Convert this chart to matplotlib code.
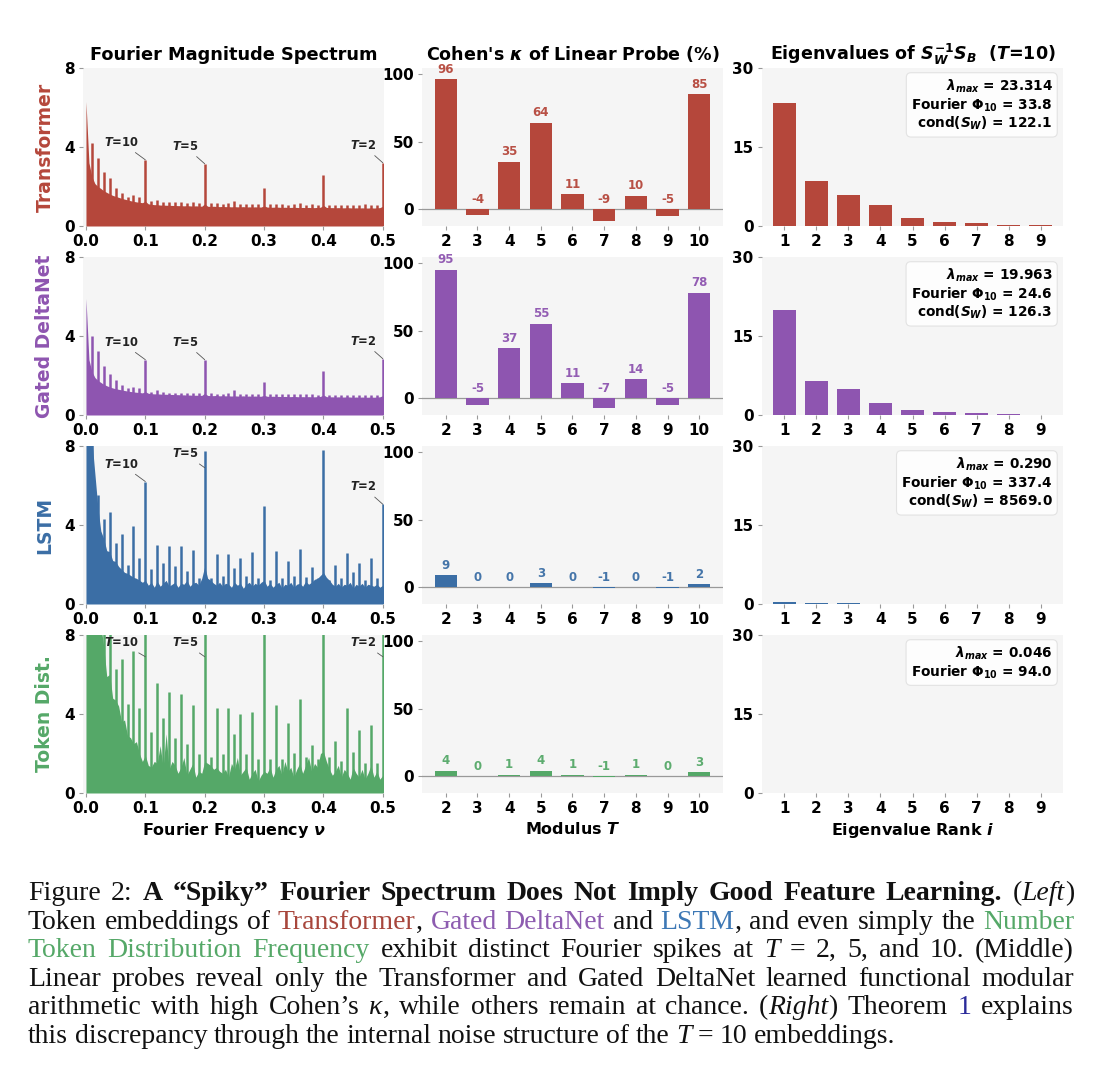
import matplotlib
matplotlib.use('Agg')
import matplotlib.pyplot as plt
import numpy as np

plt.rcParams['font.family'] = ['DejaVu Sans']
plt.rcParams['font.weight'] = 'bold'
plt.rcParams['axes.titleweight'] = 'bold'
plt.rcParams['axes.labelweight'] = 'bold'
plt.rcParams['mathtext.fontset'] = 'custom'
plt.rcParams['mathtext.rm'] = 'DejaVu Sans:bold'
plt.rcParams['mathtext.it'] = 'DejaVu Sans:italic:bold'
plt.rcParams['mathtext.bf'] = 'DejaVu Sans:bold'
plt.rcParams['mathtext.sf'] = 'DejaVu Sans:bold'

# ---- data ----
models = ["Transformer", "Gated DeltaNet", "LSTM", "Token Dist."]
colors = ["#b5473b", "#8e55b0", "#3b6ea5", "#55a868"]

# spectrum background level, every 0.005 from 0 to 0.5
base_tr = [6.3, 3.2, 2.5, 2.15, 2.0, 1.9, 1.78, 1.7, 1.62, 1.55,
           1.5, 1.45, 1.4, 1.36, 1.32, 1.28, 1.25, 1.22, 1.2, 1.18,
           1.25, 1.12, 1.1, 1.08, 1.08, 1.06, 1.06, 1.05, 1.05, 1.04,
           1.04, 1.03, 1.03, 1.02, 1.03, 1.02, 1.01, 1.02, 1.01, 1.0,
           1.12, 1.0, 0.99, 1.0, 0.99, 0.98, 0.99, 0.98, 0.98, 0.97,
           0.98, 0.97, 0.97, 0.98, 0.96, 0.97, 0.96, 0.97, 0.96, 0.96,
           1.02, 0.96, 0.95, 0.95, 0.96, 0.95, 0.94, 0.95, 0.94, 0.94,
           0.95, 0.94, 0.93, 0.94, 0.93, 0.94, 0.93, 0.93, 0.94, 0.95,
           1.05, 0.94, 0.93, 0.93, 0.92, 0.93, 0.92, 0.92, 0.93, 0.92,
           0.91, 0.92, 0.91, 0.92, 0.91, 0.91, 0.92, 0.91, 0.92, 0.93,
           1.0]
base_gd = [5.9, 2.8, 2.2, 1.9, 1.75, 1.65, 1.55, 1.48, 1.42, 1.37,
           1.33, 1.3, 1.27, 1.24, 1.21, 1.19, 1.17, 1.15, 1.14, 1.12,
           1.18, 1.1, 1.08, 1.07, 1.07, 1.06, 1.05, 1.05, 1.04, 1.04,
           1.03, 1.03, 1.02, 1.02, 1.01, 1.01, 1.0, 1.0, 1.0, 0.99,
           1.1, 0.99, 0.98, 0.98, 0.99, 0.97, 0.98, 0.97, 0.97, 0.96,
           0.97, 0.96, 0.96, 0.97, 0.95, 0.96, 0.95, 0.96, 0.95, 0.95,
           1.0, 0.95, 0.94, 0.95, 0.94, 0.94, 0.93, 0.94, 0.93, 0.93,
           0.94, 0.93, 0.92, 0.93, 0.92, 0.93, 0.92, 0.92, 0.93, 0.94,
           1.02, 0.93, 0.92, 0.92, 0.91, 0.92, 0.91, 0.91, 0.92, 0.91,
           0.9, 0.91, 0.9, 0.91, 0.9, 0.9, 0.91, 0.9, 0.91, 0.92,
           0.98]
base_ls = [8.5, 8.5, 8.3, 6.6, 4.9, 3.7, 3.3, 2.7, 2.65, 2.2,
           2.15, 1.9, 1.75, 1.6, 1.55, 1.45, 1.35, 1.3, 1.2, 1.1,
           1.2, 0.95, 1.1, 0.85, 1.15, 0.9, 1.05, 1.2, 0.9, 1.0,
           1.1, 0.85, 1.05, 1.0, 1.2, 0.9, 1.05, 1.1, 0.95, 1.3,
           1.9, 1.3, 1.2, 1.05, 0.95, 1.1, 0.9, 1.05, 1.0, 0.85,
           1.1, 0.95, 1.05, 0.8, 1.0, 1.1, 0.9, 1.05, 0.95, 1.1,
           1.2, 0.9, 1.05, 0.85, 1.0, 1.1, 0.8, 1.0, 0.95, 1.1,
           0.85, 1.0, 1.05, 0.9, 1.15, 1.0, 1.1, 1.25, 1.3, 1.45,
           1.6, 1.35, 1.2, 1.0, 0.9, 1.05, 0.85, 1.0, 0.95, 1.1,
           0.8, 1.0, 0.9, 1.05, 0.85, 1.0, 0.95, 0.9, 1.0, 0.85,
           0.95]
base_tk = [8.5, 8.5, 8.5, 8.5, 8.5, 8.5, 7.4, 5.9, 6.0, 4.8,
           4.7, 4.4, 3.6, 3.7, 2.9, 2.8, 2.5, 2.6, 2.0, 1.6,
           1.9, 1.4, 1.3, 1.6, 1.5, 2.4, 1.3, 3.0, 1.2, 1.6,
           1.4, 1.0, 1.3, 1.8, 0.9, 1.2, 1.5, 0.8, 1.1, 1.0,
           1.6, 1.5, 1.4, 1.2, 1.3, 1.1, 1.0, 1.2, 0.8, 1.5,
           1.2, 1.8, 0.9, 1.1, 1.3, 0.7, 1.0, 1.2, 0.6, 0.9,
           1.1, 1.0, 1.3, 0.8, 1.2, 1.4, 0.9, 1.6, 1.1, 1.3,
           0.8, 1.2, 1.5, 1.0, 1.4, 1.8, 1.1, 1.5, 1.3, 2.0,
           2.1, 1.6, 1.2, 0.9, 1.1, 1.4, 0.8, 1.2, 1.0, 0.7,
           1.3, 1.0, 0.8, 1.2, 0.7, 1.0, 1.4, 0.8, 1.1, 0.7,
           0.9]

# spike heights at nu = 0.01, 0.02, ..., 0.50
spk_tr = [4.2, 3.45, 2.75, 2.45, 1.9, 1.65, 1.45, 1.55, 1.45, 3.35,
          1.25, 1.3, 1.2, 1.2, 1.22, 1.22, 1.15, 1.2, 1.15, 3.15,
          1.15, 1.15, 1.1, 1.18, 1.25, 1.12, 1.1, 1.1, 1.1, 1.9,
          1.1, 1.1, 1.12, 1.05, 1.1, 1.15, 1.05, 1.1, 1.05, 2.6,
          1.08, 1.06, 1.08, 1.05, 1.07, 1.06, 1.1, 1.08, 1.05, 3.2]
spk_gd = [4.0, 3.25, 2.5, 2.1, 1.75, 1.5, 1.35, 1.4, 1.35, 2.8,
          1.15, 1.25, 1.15, 1.12, 1.12, 1.12, 1.1, 1.12, 1.1, 2.8,
          1.1, 1.08, 1.08, 1.1, 1.25, 1.08, 1.06, 1.06, 1.06, 1.65,
          1.05, 1.05, 1.05, 1.04, 1.05, 1.05, 1.04, 1.04, 1.03, 2.25,
          1.03, 1.03, 1.02, 1.03, 1.02, 1.02, 1.02, 1.02, 1.02, 2.85]
spk_ls = [8.5, 5.5, 4.3, 4.65, 3.1, 3.55, 2.0, 3.95, 2.35, 6.2,
          1.75, 3.0, 2.1, 2.95, 1.9, 2.95, 1.65, 2.75, 1.3, 7.75,
          1.3, 2.55, 1.4, 2.55, 1.8, 2.35, 1.4, 2.65, 1.3, 4.95,
          1.2, 2.7, 1.3, 2.2, 1.4, 2.8, 1.35, 1.85, 1.3, 7.8,
          1.2, 2.0, 1.3, 2.6, 1.6, 2.1, 1.2, 2.35, 1.3, 5.05]
spk_tk = [8.5, 8.5, 8.5, 8.5, 6.3, 6.8, 4.5, 7.2, 4.3, 8.5,
          3.1, 5.55, 3.8, 5.1, 2.8, 5.0, 2.5, 4.45, 2.0, 8.5,
          1.8, 4.3, 2.0, 4.3, 3.0, 4.0, 2.0, 4.1, 1.7, 8.5,
          1.7, 4.45, 1.7, 3.55, 2.05, 4.75, 1.8, 2.45, 1.7, 8.5,
          1.8, 2.65, 1.6, 4.3, 2.1, 3.2, 1.5, 3.45, 1.5, 8.5]

bases = [base_tr, base_gd, base_ls, base_tk]
spikes = [spk_tr, spk_gd, spk_ls, spk_tk]

moduli = [2, 3, 4, 5, 6, 7, 8, 9, 10]
kappa_tr = [96, -4, 35, 64, 11, -9, 10, -5, 85]
kappa_gd = [95, -5, 37, 55, 11, -7, 14, -5, 78]
kappa_ls = [9, 0, 0, 3, 0, -1, 0, -1, 2]
kappa_tk = [4, 0, 1, 4, 1, -1, 1, 0, 3]
kappas = [kappa_tr, kappa_gd, kappa_ls, kappa_tk]

ranks = [1, 2, 3, 4, 5, 6, 7, 8, 9]
eig_tr = [23.3, 8.6, 5.9, 3.9, 1.45, 0.8, 0.6, 0.2, 0.1]
eig_gd = [19.96, 6.5, 4.9, 2.25, 0.95, 0.6, 0.3, 0.1, 0.05]
eig_ls = [0.29, 0.12, 0.1, 0.08, 0.07, 0.05, 0.0, 0.0, 0.0]
eig_tk = [0.046, 0.02, 0.015, 0.01, 0.008, 0.005, 0.003, 0.002, 0.001]
eigs = [eig_tr, eig_gd, eig_ls, eig_tk]

lam_max = ["23.314", "19.963", "0.290", "0.046"]
phi10 = ["33.8", "24.6", "337.4", "94.0"]
cond_sw = ["122.1", "126.3", "8569.0", None]

# ---- figure ----
fig = plt.figure(figsize=(11.05, 10.8), dpi=100)
W, H = 1105, 1080

row_bottom = [1 - 226 / H, 1 - 415 / H, 1 - 604 / H, 1 - 793 / H]
row_h = 158 / H
col_left = [83 / W, 422 / W, 762 / W]
col_w = 301 / W
bg = '#f5f5f5'


def style_ax(ax):
    ax.set_facecolor(bg)
    for s in ax.spines.values():
        s.set_visible(False)
    ax.tick_params(length=3, width=0.8, color='#999999', labelsize=11, pad=3)


for r in range(4):
    c = colors[r]
    # --- spectrum
    ax = fig.add_axes([col_left[0], row_bottom[r], col_w, row_h])
    style_ax(ax)
    b = bases[r]
    nu_b = np.linspace(0, 0.5, len(b))
    ax.fill_between(nu_b, 0, b, color=c, lw=0)
    sp = spikes[r]
    nu_s = np.linspace(0.01, 0.5, len(sp))
    ax.vlines(nu_s, 0, sp, color=c, lw=1.8)
    ax.set_xlim(-0.005, 0.502)
    ax.set_ylim(0, 8)
    ax.set_yticks([0, 4, 8])
    ax.set_xticks([0, 0.1, 0.2, 0.3, 0.4, 0.5])
    ax.set_xticklabels(['0.0', '0.1', '0.2', '0.3', '0.4', '0.5'])
    for idx, lab, dx in [(9, '$T$=10', -0.04), (19, '$T$=5', -0.033), (49, '$T$=2', -0.033)]:
        h = sp[idx]
        ax.annotate(lab, xy=(nu_s[idx], min(h, 6.9)),
                    xytext=(nu_s[idx] + dx, min(h + 0.88, 7.6)),
                    ha='center', va='center', fontsize=8.3, color='#222222',
                    arrowprops=dict(arrowstyle='-', color='#555555', lw=0.6,
                                    shrinkA=1, shrinkB=0))
    fig.text(45 / W, row_bottom[r] + row_h / 2, models[r], rotation=90,
             ha='center', va='center', color=c, fontsize=13.5, fontweight='bold')
    if r == 0:
        ax.set_title("Fourier Magnitude Spectrum", fontsize=12.8, pad=6)
    if r == 3:
        ax.set_xlabel(r"Fourier Frequency $\nu$", fontsize=11.5, labelpad=3)

    # --- kappa
    ax = fig.add_axes([col_left[1], row_bottom[r], col_w, row_h])
    style_ax(ax)
    ax.axhline(0, color='#999999', lw=0.9, zorder=1)
    ax.bar(moduli, kappas[r], width=0.7, color=c, zorder=2)
    for t, v in zip(moduli, kappas[r]):
        ax.text(t, max(v, 0) + 2.5, str(v), ha='center', va='bottom',
                fontsize=8.5, color=c, alpha=0.95)
    ax.set_xlim(1.25, 10.75)
    ax.set_ylim(-12.5, 104.5)
    ax.set_yticks([0, 50, 100])
    ax.set_xticks(moduli)
    if r == 0:
        ax.set_title(r"Cohen's $\kappa$ of Linear Probe (%)", fontsize=12.6, pad=6)
    if r == 3:
        ax.set_xlabel(r"Modulus $T$", fontsize=11.5, labelpad=3)

    # --- eigenvalues
    ax = fig.add_axes([col_left[2], row_bottom[r], col_w, row_h])
    style_ax(ax)
    ax.bar(ranks, eigs[r], width=0.7, color=c)
    ax.set_xlim(0.3, 9.7)
    ax.set_ylim(0, 30)
    ax.set_yticks([0, 15, 30])
    ax.set_xticks(ranks)
    lines = [r"$\lambda_{max}$ = " + lam_max[r], r"Fourier $\Phi_{10}$ = " + phi10[r]]
    if cond_sw[r] is not None:
        lines.append(r"cond($S_W$) = " + cond_sw[r])
    ax.text(0.965, 0.94, "\n".join(lines), transform=ax.transAxes, ha='right',
            va='top', multialignment='right', fontsize=9.8, linespacing=1.1,
            bbox=dict(boxstyle='round,pad=0.35', fc='white', ec='#e0e0e0',
                      lw=0.8, alpha=0.9))
    if r == 0:
        ax.set_title(r"Eigenvalues of $S_W^{-1}S_B$  $(T$=10$)$", fontsize=12.6, pad=6)
    if r == 3:
        ax.set_xlabel(r"Eigenvalue Rank $i$", fontsize=11.5, labelpad=3)

# ---- caption ----
K = '#111111'
red, pur, blu, grn, navy = '#a8463c', '#8d5cb0', '#3d78b5', '#55a868', '#2b2b9a'
N, B, I = 'normal', 'bold', 'italic'
caption = [
    [("Figure 2: ", K, N, N), ("A \u201cSpiky\u201d Fourier Spectrum Does Not Imply Good Feature Learning.", K, B, N),
     (" (", K, N, N), ("Left", K, N, I), (")", K, N, N)],
    [("Token embeddings of ", K, N, N), ("Transformer", red, N, N), (", ", K, N, N),
     ("Gated DeltaNet", pur, N, N), (" and ", K, N, N), ("LSTM", blu, N, N),
     (", and even simply the ", K, N, N), ("Number", grn, N, N)],
    [("Token Distribution Frequency", grn, N, N), (" exhibit distinct Fourier spikes at ", K, N, N),
     ("T", K, N, I), (" = 2, 5, and 10. (Middle)", K, N, N)],
    [("Linear probes reveal only the Transformer and Gated DeltaNet learned functional modular", K, N, N)],
    [("arithmetic with high Cohen\u2019s ", K, N, N), ("\u03ba", K, N, I), (", while others remain at chance. (", K, N, N),
     ("Right", K, N, I), (") Theorem ", K, N, N), ("1", navy, N, N), (" explains", K, N, N)],
    [("this discrepancy through the internal noise structure of the ", K, N, N), ("T", K, N, I),
     (" = 10 embeddings.", K, N, N)],
]


def split_words(segs):
    words = [[]]
    for txt, col, wt, st in segs:
        parts = txt.split(' ')
        for i, p in enumerate(parts):
            if i > 0:
                words.append([])
            if p:
                words[-1].append((p, col, wt, st))
    return [w for w in words if w]


fig.canvas.draw()
renderer = fig.canvas.get_renderer()
x0, x1 = 28, 1074
space = 6.5
for li, segs in enumerate(caption):
    yb = 1 - (900 + 28.6 * li) / H
    words = split_words(segs)
    objs, widths = [], []
    for w in words:
        row, tot = [], 0
        for p, col, wt, st in w:
            t = fig.text(0, yb, p, color=col, fontweight=wt, fontstyle=st,
                         family='Liberation Serif', fontsize=20, va='baseline', ha='left')
            wd = t.get_window_extent(renderer).width
            row.append((t, wd))
            tot += wd
        objs.append(row)
        widths.append(tot)
    if li < len(caption) - 1 and len(words) > 1:
        gap = (x1 - x0 - sum(widths)) / (len(words) - 1)
    else:
        gap = space
    x = x0
    for row, tot in zip(objs, widths):
        xx = x
        for t, wd in row:
            t.set_x(xx / W)
            xx += wd
        x += tot + gap

fig.savefig('out.png', dpi=100)
